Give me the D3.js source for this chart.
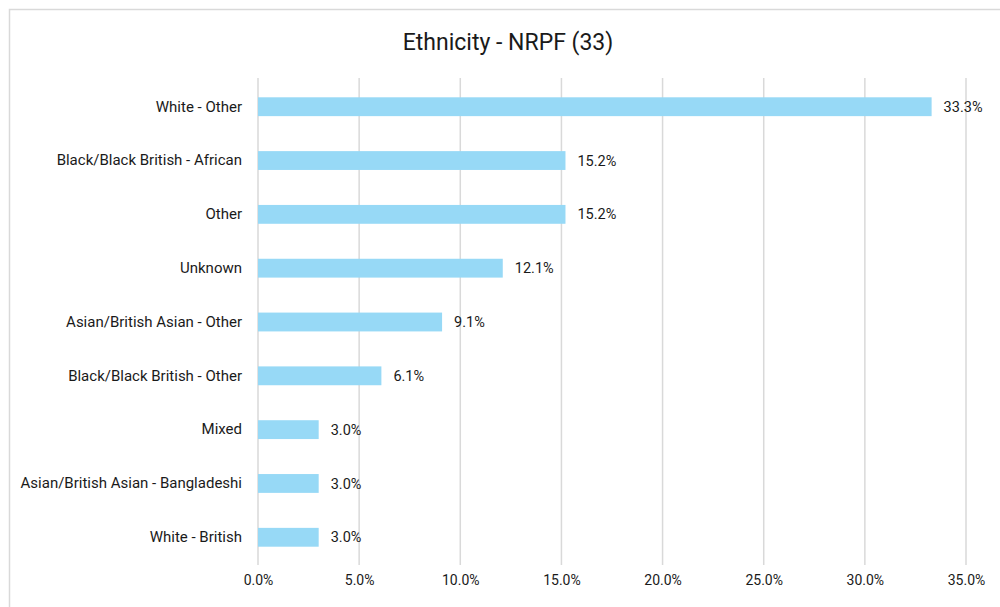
<!DOCTYPE html>
<html>
<head>
<meta charset="utf-8">
<script src="https://cdn.jsdelivr.net/npm/d3@7"></script>
<style>
  body { margin: 0; background: #fff; }
  svg text { font-family: Roboto, "Open Sans", sans-serif; fill: #1a1a1a; }
</style>
</head>
<body>
<div id="chart"></div>
<script>
// DATA
const categories = [
  "White - Other",
  "Black/Black British - African",
  "Other",
  "Unknown",
  "Asian/British Asian - Other",
  "Black/Black British - Other",
  "Mixed",
  "Asian/British Asian - Bangladeshi",
  "White - British"
];
const values = [33.3, 15.2, 15.2, 12.1, 9.1, 6.1, 3.0, 3.0, 3.0];
const xTicks = [0, 5, 10, 15, 20, 25, 30, 35];
const chartTitle = "Ethnicity - NRPF (33)";

const data = categories.map((c, i) => ({ name: c, value: values[i] }));

//DIMENSION
const width = 1000, height = 607;
const margin = { top: 79, right: 34, bottom: 42, left: 258 };
const plotW = width - margin.left - margin.right;
const plotH = height - margin.top - margin.bottom;

const svg = d3.select('#chart')
  .append('svg')
    .attr('width', width)
    .attr('height', height);

// chart frame
svg.append('rect')
  .attr('x', 9.5).attr('y', 9.5)
  .attr('width', width + 10).attr('height', height + 10)
  .attr('fill', 'none')
  .attr('stroke', '#d9d9d9')
  .attr('stroke-width', 1.5);

svg.append('text')
  .attr('x', 508)
  .attr('y', 50)
  .attr('text-anchor', 'middle')
  .attr('font-size', 23)
  .text(chartTitle);

const g = svg.append('g')
  .attr('transform', `translate(${margin.left},${margin.top})`);

//SCALES
const xScale = d3.scaleLinear().domain([0, 35]).range([0, plotW]);
const yScale = d3.scaleBand()
  .domain(categories)
  .range([0, plotH])
  .paddingInner(0.65)
  .paddingOuter(0.34);

//GRID
g.selectAll('.grid')
  .data(xTicks)
  .join('line')
    .attr('class', 'grid')
    .attr('x1', d => xScale(d)).attr('x2', d => xScale(d))
    .attr('y1', -1).attr('y2', plotH)
    .attr('stroke', '#d9d9d9')
    .attr('stroke-width', 1.5);

//X AXIS
const xAxisG = g.append('g')
  .attr('transform', `translate(0,${plotH})`)
  .call(d3.axisBottom(xScale)
    .tickValues(xTicks)
    .tickFormat(d => d.toFixed(1) + '%')
    .tickSize(0)
    .tickPadding(10));
xAxisG.select('.domain').remove();
xAxisG.selectAll('text').attr('font-size', 14).attr('fill', '#1a1a1a');

//Y AXIS
const yAxisG = g.append('g')
  .call(d3.axisLeft(yScale).tickSize(0).tickPadding(16));
yAxisG.select('.domain').remove();
yAxisG.selectAll('text').attr('font-size', 15).attr('fill', '#1a1a1a');

//BARS
g.selectAll('.bar')
  .data(data)
  .join('rect')
    .attr('class', 'bar')
    .attr('x', 0)
    .attr('y', d => yScale(d.name))
    .attr('width', d => xScale(d.value))
    .attr('height', yScale.bandwidth())
    .attr('fill', '#97d9f6');

//LABELS
g.selectAll('.val')
  .data(data)
  .join('text')
    .attr('class', 'val')
    .attr('x', d => xScale(d.value) + 12)
    .attr('y', d => yScale(d.name) + yScale.bandwidth() / 2)
    .attr('dy', '0.35em')
    .attr('font-size', 14.5)
    .text(d => d.value.toFixed(1) + '%');
</script>
</body>
</html>
